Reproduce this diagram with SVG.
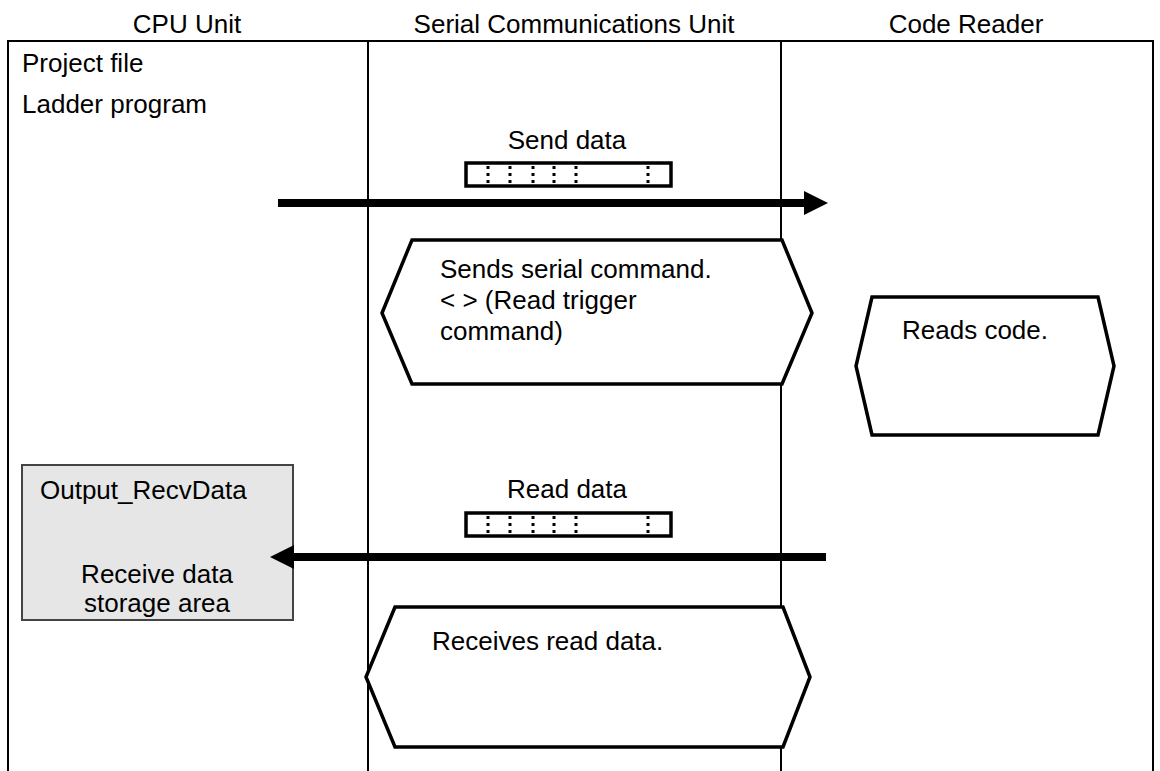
<svg xmlns="http://www.w3.org/2000/svg" width="1160" height="771" viewBox="0 0 1160 771">
<defs>
<style>
text{font-family:"Liberation Sans",Arial,sans-serif;font-size:26px;fill:#000}
.frame{stroke:#000;stroke-width:2;fill:none}
.hex{stroke:#000;stroke-width:3.5;fill:#fff;stroke-linejoin:miter}
.dbox{stroke:#000;stroke-width:3.5;fill:#fff}
.dots{stroke:#000;stroke-width:3;stroke-dasharray:3,4}
.arrow{stroke:#000;stroke-width:8;fill:none}
</style>
</defs>
<rect width="1160" height="771" fill="#fff"/>
<g id="headers">
<text x="187" y="33" text-anchor="middle">CPU Unit</text>
<text x="574" y="33" text-anchor="middle">Serial Communications Unit</text>
<text x="966" y="33" text-anchor="middle">Code Reader</text>
</g>
<g id="lanes">
<path class="frame" d="M8,771 V41 H1153 V771"/>
<line class="frame" x1="368" y1="41" x2="368" y2="771"/>
<line class="frame" x1="781" y1="41" x2="781" y2="771"/>
<text x="22" y="72">Project file</text>
<text x="22" y="113">Ladder program</text>
</g>
<g id="send-data">
<text x="567" y="149" text-anchor="middle">Send data</text>
<rect class="dbox" x="466" y="163" width="205" height="23"/>
<g class="dots">
<line x1="488" y1="166" x2="488" y2="184"/>
<line x1="510" y1="166" x2="510" y2="184"/>
<line x1="533" y1="166" x2="533" y2="184"/>
<line x1="554" y1="166" x2="554" y2="184"/>
<line x1="576" y1="166" x2="576" y2="184"/>
<line x1="648" y1="166" x2="648" y2="184"/>
</g>
</g>
<g id="hex-send">
<polygon class="hex" points="412,240 782,240 812,313 782,384 412,384 382,313"/>
<text x="440" y="278">Sends serial command.</text>
<text x="440" y="309">&lt; &gt; (Read trigger</text>
<text x="440" y="340">command)</text>
</g>
<g id="hex-read">
<polygon class="hex" points="872,297 1098,297 1114,366 1098,435 872,435 856,366"/>
<text x="902" y="339">Reads code.</text>
</g>
<g id="read-data">
<text x="567" y="498" text-anchor="middle">Read data</text>
<rect class="dbox" x="466" y="513" width="205" height="23"/>
<g class="dots">
<line x1="488" y1="516" x2="488" y2="534"/>
<line x1="510" y1="516" x2="510" y2="534"/>
<line x1="533" y1="516" x2="533" y2="534"/>
<line x1="554" y1="516" x2="554" y2="534"/>
<line x1="576" y1="516" x2="576" y2="534"/>
<line x1="648" y1="516" x2="648" y2="534"/>
</g>
</g>
<g id="recv-box">
<rect x="22" y="465" width="271" height="155" fill="#e6e6e6" stroke="#444" stroke-width="2"/>
<text x="40" y="499">Output_RecvData</text>
<text x="157" y="583" text-anchor="middle">Receive data</text>
<text x="157" y="612" text-anchor="middle">storage area</text>
</g>
<g id="hex-recv">
<polygon class="hex" points="395,607 783,607 810,677 783,747 395,747 366,677"/>
<text x="432" y="650">Receives read data.</text>
</g>
<g id="connectors">
<line class="arrow" x1="278" y1="203" x2="806" y2="203"/>
<polygon points="804,191 828,203 804,215" fill="#000"/>
<line class="arrow" x1="826" y1="557" x2="292" y2="557"/>
<polygon points="294,545 270,557 294,569" fill="#000"/>
</g>
</svg>
